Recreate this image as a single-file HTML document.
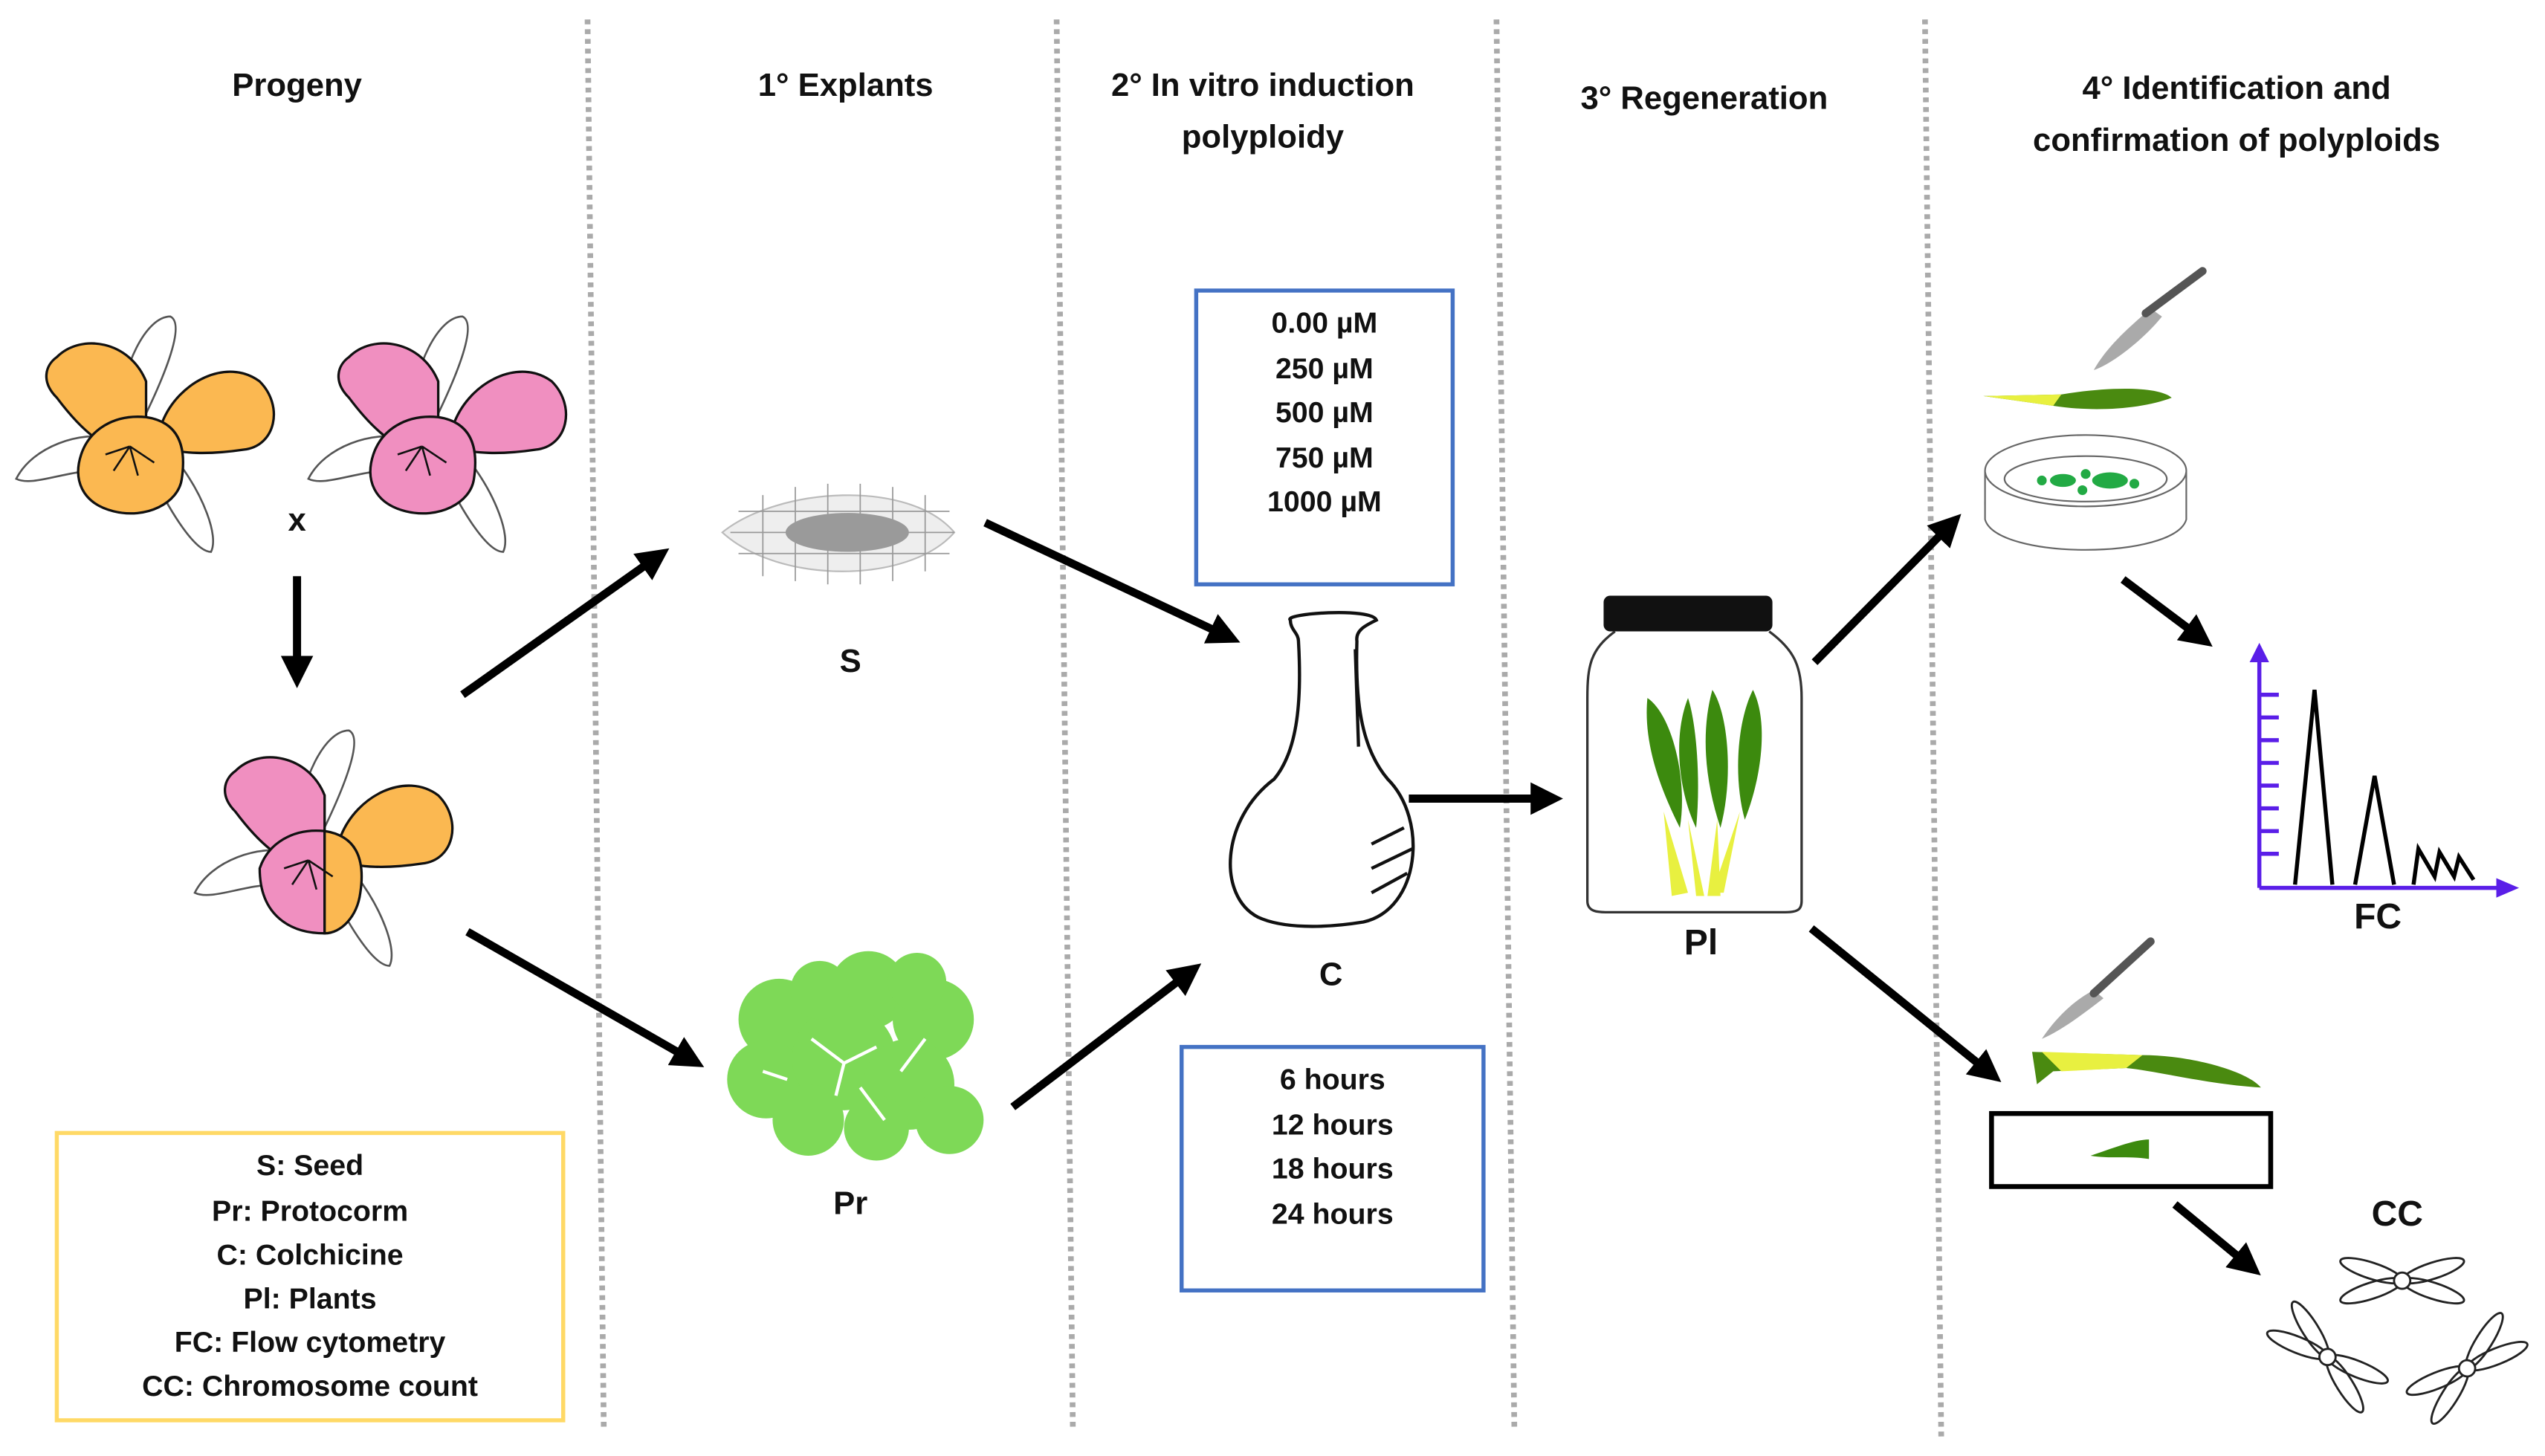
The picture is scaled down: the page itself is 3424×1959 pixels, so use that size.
<!DOCTYPE html>
<html><head><meta charset="utf-8"><style>
html,body{margin:0;padding:0;background:#fff}
svg{display:block}
text{font-family:"Liberation Sans",sans-serif;font-weight:bold;fill:#111}
</style></head><body>
<svg width="3424" height="1959" viewBox="0 0 1568 897" preserveAspectRatio="none" xmlns="http://www.w3.org/2000/svg">
<defs>
<marker id="ah" markerWidth="4" markerHeight="4" refX="2.2" refY="2" orient="auto" markerUnits="strokeWidth">
<path d="M0,0 L4,2 L0,4 Z" fill="#000"/></marker>
<g id="flw">
 <path d="M-70,30 C-60,10 -30,0 -10,5 L-20,25 C-40,25 -60,35 -70,30Z" fill="#fff" stroke="#555" stroke-width="1.2"/>
 <path d="M-8,-5 C-5,-40 10,-70 25,-70 C35,-65 20,-30 5,0Z" fill="#fff" stroke="#555" stroke-width="1.2"/>
 <path d="M30,20 C45,40 55,65 50,75 C40,75 25,50 15,30Z" fill="#fff" stroke="#555" stroke-width="1.2"/>
</g>
<g id="chr" fill="none" stroke="#222" stroke-width="1.3">
 <ellipse cx="20" cy="0" rx="20" ry="5" transform="rotate(18)"/>
 <ellipse cx="20" cy="0" rx="20" ry="5" transform="rotate(162)"/>
 <ellipse cx="20" cy="0" rx="20" ry="5" transform="rotate(198)"/>
 <ellipse cx="20" cy="0" rx="20" ry="5" transform="rotate(342)"/>
 <circle r="5" fill="#fff"/>
</g>
</defs>
<g stroke="#aaa" stroke-width="3.5" stroke-dasharray="3,3">
<line x1="362" y1="12" x2="372" y2="880"/>
<line x1="651" y1="12" x2="661" y2="880"/>
<line x1="922" y1="12" x2="933" y2="880"/>
<line x1="1186" y1="12" x2="1196" y2="885"/>
</g>
<g font-size="20" text-anchor="middle">
<text x="183" y="59">Progeny</text>
<text x="521" y="59">1° Explants</text>
<text x="778" y="59">2° In vitro induction</text>
<text x="778" y="91">polyploidy</text>
<text x="1050" y="67">3° Regeneration</text>
<text x="1378" y="61">4° Identification and</text>
<text x="1378" y="93">confirmation of polyploids</text>
</g>
<g transform="translate(80,265)">
 <use href="#flw"/>
 <path d="M-45,-45 C-30,-60 0,-55 10,-30 L10,10 C-10,20 -30,0 -45,-20 C-55,-30 -52,-40 -45,-45Z" fill="#fbb851" stroke="#111" stroke-width="1.5"/>
 <path d="M20,-5 C30,-30 60,-45 80,-30 C95,-15 90,10 70,12 C50,15 30,15 20,10Z" fill="#fbb851" stroke="#111" stroke-width="1.5"/>
 <path d="M-30,15 C-25,0 -10,-10 10,-8 C30,-5 35,10 32,30 C30,45 10,55 -10,50 C-30,45 -35,30 -30,15Z" fill="#fbb851" stroke="#111" stroke-width="1.5"/>
 <path d="M0,10 l-10,15 M0,10 l5,18 M0,10 l15,10 M0,10 l-15,5" stroke="#111" stroke-width="1.2"/>
</g>
<g transform="translate(260,265)">
 <use href="#flw"/>
 <path d="M-45,-45 C-30,-60 0,-55 10,-30 L10,10 C-10,20 -30,0 -45,-20 C-55,-30 -52,-40 -45,-45Z" fill="#f08fc0" stroke="#111" stroke-width="1.5"/>
 <path d="M20,-5 C30,-30 60,-45 80,-30 C95,-15 90,10 70,12 C50,15 30,15 20,10Z" fill="#f08fc0" stroke="#111" stroke-width="1.5"/>
 <path d="M-30,15 C-25,0 -10,-10 10,-8 C30,-5 35,10 32,30 C30,45 10,55 -10,50 C-30,45 -35,30 -30,15Z" fill="#f08fc0" stroke="#111" stroke-width="1.5"/>
 <path d="M0,10 l-10,15 M0,10 l5,18 M0,10 l15,10 M0,10 l-15,5" stroke="#111" stroke-width="1.2"/>
</g>
<g transform="translate(190,520)">
 <use href="#flw"/>
 <path d="M-45,-45 C-30,-60 0,-55 10,-30 L10,10 C-10,20 -30,0 -45,-20 C-55,-30 -52,-40 -45,-45Z" fill="#f08fc0" stroke="#111" stroke-width="1.5"/>
 <path d="M20,-5 C30,-30 60,-45 80,-30 C95,-15 90,10 70,12 C50,15 30,15 20,10Z" fill="#fbb851" stroke="#111" stroke-width="1.5"/>
 <path d="M-30,15 C-25,0 -10,-10 10,-8 L10,55 C-10,55 -30,45 -30,15Z" fill="#f08fc0" stroke="#111" stroke-width="1.5"/>
 <path d="M10,-8 C30,-5 35,10 32,30 C30,45 20,55 10,55Z" fill="#fbb851" stroke="#111" stroke-width="1.5"/>
 <path d="M0,10 l-10,15 M0,10 l5,18 M0,10 l15,10 M0,10 l-15,5" stroke="#111" stroke-width="1.2"/>
</g>
<text x="183" y="327" font-size="20" text-anchor="middle">x</text>
<g stroke="#000" stroke-width="5" fill="none" marker-end="url(#ah)">
<line x1="183" y1="355" x2="183" y2="415"/>
<line x1="285" y1="428" x2="405" y2="343"/>
<line x1="288" y1="574" x2="426" y2="653"/>
<line x1="607" y1="322" x2="756" y2="392"/>
<line x1="624" y1="682" x2="733" y2="599"/>
<line x1="868" y1="492" x2="954" y2="492"/>
<line x1="1118" y1="408" x2="1202" y2="323"/>
<line x1="1308" y1="357" x2="1356" y2="393"/>
<line x1="1116" y1="572" x2="1226" y2="661"/>
<line x1="1340" y1="742" x2="1386" y2="780"/>
</g>
<g>
<path d="M445,328 C480,300 560,295 588,328 C560,360 480,360 445,328Z" fill="#eee" stroke="#bbb"/>
<g stroke="#999" stroke-width="0.8">
<line x1="470" y1="305" x2="470" y2="355"/><line x1="490" y1="300" x2="490" y2="358"/><line x1="510" y1="298" x2="510" y2="360"/><line x1="530" y1="298" x2="530" y2="360"/><line x1="550" y1="300" x2="550" y2="358"/><line x1="570" y1="305" x2="570" y2="352"/>
<line x1="455" y1="315" x2="585" y2="315"/><line x1="450" y1="328" x2="588" y2="328"/><line x1="455" y1="341" x2="585" y2="341"/>
</g>
<ellipse cx="522" cy="328" rx="38" ry="12" fill="#9a9a9a"/>
</g>
<text x="524" y="414" font-size="20" text-anchor="middle">S</text>
<g fill="#7ed957">
<circle cx="480" cy="628" r="25"/><circle cx="535" cy="610" r="24"/><circle cx="575" cy="628" r="25"/><circle cx="472" cy="665" r="24"/><circle cx="520" cy="652" r="32"/><circle cx="560" cy="668" r="28"/><circle cx="585" cy="690" r="21"/><circle cx="498" cy="690" r="22"/><circle cx="540" cy="695" r="20"/><circle cx="565" cy="605" r="18"/><circle cx="505" cy="610" r="18"/>
</g>
<g stroke="#fff" stroke-width="2" fill="none"><path d="M500,640 l20,15 l20,-10 M530,670 l15,20 M470,660 l15,5 M570,640 l-15,20 M520,655 l-5,20"/></g>
<text x="524" y="748" font-size="20" text-anchor="middle">Pr</text>
<rect x="737" y="179" width="158" height="181" fill="none" stroke="#4472c4" stroke-width="2.5"/>
<g font-size="18" text-anchor="middle">
<text x="816" y="205">0.00 µM</text><text x="816" y="233">250 µM</text><text x="816" y="260">500 µM</text><text x="816" y="288">750 µM</text><text x="816" y="315">1000 µM</text>
</g>
<rect x="728" y="645" width="186" height="150" fill="none" stroke="#4472c4" stroke-width="2.5"/>
<g font-size="18" text-anchor="middle">
<text x="821" y="671">6 hours</text><text x="821" y="699">12 hours</text><text x="821" y="726">18 hours</text><text x="821" y="754">24 hours</text>
</g>
<path d="M795,382 C790,378 845,374 848,382 C842,385 835,388 836,395 C835,430 838,460 855,480 C880,505 875,560 840,568 C815,572 790,572 775,565 C750,552 752,505 785,480 C800,462 802,430 800,395 C800,390 795,388 795,382Z" fill="#fff" stroke="#111" stroke-width="2"/>
<path d="M835,400 l2,60 M845,520 l20,-10 M845,535 l25,-12 M845,550 l22,-12" stroke="#111" stroke-width="2"/>
<text x="820" y="607" font-size="20" text-anchor="middle">C</text>
<rect x="988" y="367" width="104" height="22" rx="4" fill="#111"/>
<path d="M995,389 C980,400 978,410 978,430 L978,555 C978,562 985,562 990,562 L1100,562 C1108,562 1110,560 1110,555 L1110,430 C1110,410 1105,400 1090,389" fill="#fff" stroke="#333" stroke-width="1.5"/>
<g fill="#3c8a0e">
<path d="M1015,430 C1030,440 1040,480 1035,510 C1025,490 1012,460 1015,430Z"/>
<path d="M1040,430 C1045,445 1048,480 1045,510 C1035,490 1030,455 1040,430Z"/>
<path d="M1055,425 C1065,440 1068,480 1060,510 C1050,480 1048,450 1055,425Z"/>
<path d="M1080,425 C1090,445 1085,480 1075,505 C1068,480 1070,445 1080,425Z"/>
</g>
<g fill="#e8f040"><path d="M1025,500 L1040,550 L1030,552 Z M1040,505 L1050,552 L1045,552Z M1058,505 L1060,552 L1052,552Z M1072,500 L1062,550 L1055,550Z"/></g>
<text x="1048" y="588" font-size="22" text-anchor="middle">Pl</text>
<g>
<path d="M1290,228 C1300,210 1320,195 1325,190 L1332,195 C1320,210 1300,225 1290,228Z" fill="#aaa"/>
<line x1="1322" y1="193" x2="1357" y2="167" stroke="#555" stroke-width="5" stroke-linecap="round"/>
<path d="M1222,244 L1270,243 C1300,238 1330,238 1338,245 C1320,252 1290,254 1265,250 Z" fill="#4a8a10"/>
<path d="M1222,244 L1270,243 L1265,250Z" fill="#e8f040"/>
<ellipse cx="1285" cy="310" rx="62" ry="22" fill="#fff" stroke="#666"/>
<path d="M1223,290 L1223,320 C1230,345 1340,345 1347,320 L1347,290" fill="#fff" stroke="#666"/>
<ellipse cx="1285" cy="290" rx="62" ry="22" fill="#fff" stroke="#666"/>
<ellipse cx="1285" cy="295" rx="50" ry="14" fill="#fff" stroke="#666"/>
<g fill="#22aa44"><ellipse cx="1271" cy="296" rx="8" ry="4"/><ellipse cx="1300" cy="296" rx="11" ry="5"/><circle cx="1258" cy="296" r="3"/><circle cx="1285" cy="292" r="3"/><circle cx="1315" cy="298" r="3"/><circle cx="1283" cy="302" r="3"/></g>
</g>
<g stroke="#5a1ee8" stroke-width="2.5" fill="none">
<line x1="1392" y1="405" x2="1392" y2="547"/><line x1="1392" y1="547" x2="1540" y2="547"/>
<path d="M1392,428 h12 M1392,442 h12 M1392,456 h12 M1392,470 h12 M1392,484 h12 M1392,498 h12 M1392,512 h12 M1392,526 h12"/>
</g>
<path d="M1386,408 L1392,396 L1398,408Z M1538,541 L1552,547 L1538,553Z" fill="#5a1ee8"/>
<g stroke="#000" stroke-width="2.5" fill="none">
<path d="M1414,545 L1426,425 L1437,545"/><path d="M1451,545 L1463,478 L1475,545"/>
<path d="M1487,545 L1490,523 L1500,540 L1503,525 L1512,540 L1515,528 L1524,542"/>
</g>
<text x="1465" y="572" font-size="22" text-anchor="middle">FC</text>
<path d="M1258,640 C1268,625 1280,615 1290,610 L1296,615 C1283,625 1270,635 1258,640Z" fill="#aaa"/>
<line x1="1290" y1="612" x2="1325" y2="580" stroke="#555" stroke-width="5" stroke-linecap="round"/>
<path d="M1252,648 L1320,650 C1350,650 1385,660 1393,670 C1360,668 1330,660 1310,658 L1265,660 L1255,668Z" fill="#4a8a10"/>
<path d="M1258,648 L1320,650 L1310,658 L1270,660Z" fill="#e8f040"/>
<rect x="1227" y="686" width="172" height="45" fill="#fff" stroke="#000" stroke-width="3"/>
<path d="M1288,712 C1300,708 1315,702 1324,702 L1324,714 C1310,712 1300,714 1288,712Z" fill="#3c8a0e"/>
<text x="1477" y="755" font-size="22" text-anchor="middle">CC</text>
<use href="#chr" transform="translate(1480,789)"/>
<use href="#chr" transform="translate(1434,836) rotate(40)"/>
<use href="#chr" transform="translate(1520,843) rotate(-40)"/>
<rect x="35" y="698" width="312" height="177" fill="none" stroke="#ffd966" stroke-width="2.5"/>
<g font-size="18" text-anchor="middle">
<text x="191" y="724">S: Seed</text><text x="191" y="752">Pr: Protocorm</text><text x="191" y="779">C: Colchicine</text><text x="191" y="806">Pl: Plants</text><text x="191" y="833">FC: Flow cytometry</text><text x="191" y="860">CC: Chromosome count</text>
</g>
</svg>
</body></html>
